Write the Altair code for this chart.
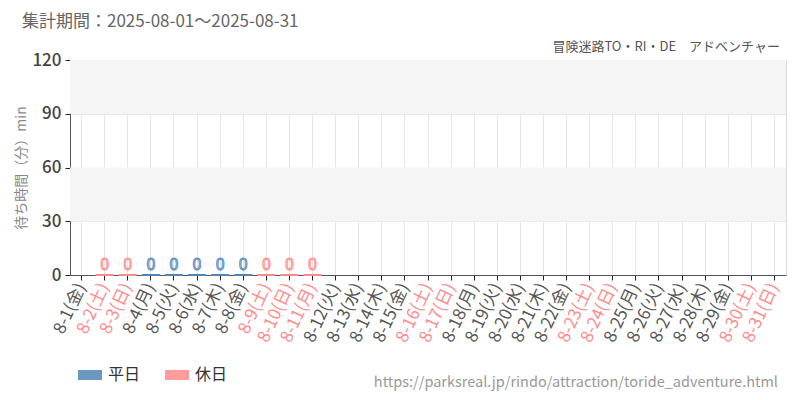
import altair as alt
import pandas as pd

# ---- data ----
days = [f"8-{d}" for d in range(1, 32)]
weekdays = ["金", "土", "日", "月", "火", "水", "木"] * 5
weekdays = weekdays[:31]
labels = [f"{d}({w})" for d, w in zip(days, weekdays)]
holiday_labels = [l for l in labels if ("土" in l or "日)" in l)] + ["8-11(月)"]
# wait time (min); None = no data
waits = [None, 0, 0, 0, 0, 0, 0, 0, 0, 0, 0] + [None] * 20
kinds = ["休日" if l in holiday_labels else "平日" for l in labels]

band_lo = [30, 90]
band_hi = [60, 120]

BLUE = "#4f86b8"
PINK = "#ff8a8a"
FONT = "Noto Sans CJK JP"

df = pd.DataFrame({"label": labels, "wait": waits, "kind": kinds})
bars_df = df.dropna(subset=["wait"])
bands_df = pd.DataFrame({"lo": band_lo, "hi": band_hi})

xscale = alt.Scale(domain=labels, paddingInner=0, paddingOuter=0)
yscale = alt.Scale(domain=[0, 120], nice=False)

hol_list = "[" + ",".join(f"'{h}'" for h in holiday_labels) + "]"

bands = alt.Chart(bands_df).mark_rect(color="#f5f5f5").encode(
    y=alt.Y("lo:Q", scale=yscale),
    y2="hi:Q",
)

base_x = alt.X(
    "label:N",
    scale=xscale,
    sort=labels,
    title=None,
    axis=alt.Axis(
        labelAngle=-65,
        labelAlign="right",
        labelBaseline="middle",
        labelFontSize=17,
        labelFont=FONT,
        labelPadding=4,
        labelLimit=200,
        labelColor=alt.ExprRef(f"indexof({hol_list}, datum.value) >= 0 ? '{PINK}' : '#555555'"),
        tickColor="#222222",
        tickSize=5,
        domainColor="#555555",
        grid=True,
        gridColor="#e6e6e6",
    ),
)

grid = alt.Chart(df).mark_tick(opacity=0).encode(
    x=base_x,
    y=alt.Y(
        "wait:Q",
        scale=yscale,
        title="待ち時間（分）min",
        axis=alt.Axis(
            values=[0, 30, 60, 90, 120],
            labelFontSize=17,
            labelFont=FONT,
            labelColor="#444444",
            labelFontWeight=500,
            labelPadding=4,
            tickColor="#222222",
            tickSize=5,
            domainColor="#555555",
            gridColor="#e6e6e6",
            titleFont=FONT,
            titleFontSize=14,
            titleFontWeight="normal",
            titleColor="#888888",
            titlePadding=3,
        ),
    ),
)

bars = alt.Chart(bars_df).mark_bar(size=18, strokeWidth=2).encode(
    x=alt.X("label:N", scale=xscale, sort=labels),
    y=alt.Y("wait:Q", scale=yscale),
    color=alt.Color(
        "kind:N",
        scale=alt.Scale(domain=["平日", "休日"], range=[BLUE, PINK]),
        legend=alt.Legend(
            title=None,
            orient="none",
            legendX=10,
            legendY=305,
            direction="horizontal",
            symbolType="M-1.2,-0.5H1.2V0.5H-1.2Z",
            symbolSize=400,
            symbolStrokeWidth=0,
            symbolOpacity=0.85,
            labelFont=FONT,
            labelFontSize=16,
            labelColor="#333333",
            labelOffset=8,
            columnPadding=24,
        ),
    ),
    stroke=alt.Stroke(
        "kind:N",
        scale=alt.Scale(domain=["平日", "休日"], range=[BLUE, PINK]),
        legend=None,
    ),
)

texts = alt.Chart(bars_df).mark_text(
    fontSize=16, font=FONT, dy=-10, strokeWidth=0.9
).encode(
    x=alt.X("label:N", scale=xscale, sort=labels),
    y=alt.Y("wait:Q", scale=yscale),
    text=alt.Text("wait:Q", format="d"),
    fill=alt.condition(alt.datum.kind == "平日", alt.value("#dfeaf4"), alt.value("#ffe6e6")),
    stroke=alt.condition(alt.datum.kind == "平日", alt.value(BLUE), alt.value(PINK)),
)

title = alt.Chart(pd.DataFrame({"t": ["集計期間：2025-08-01～2025-08-31"]})).mark_text(
    align="left", baseline="middle", font=FONT, fontSize=17, color="#666666"
).encode(x=alt.value(-48), y=alt.value(-38), text="t:N")

subtitle = alt.Chart(pd.DataFrame({"t": ["冒険迷路TO・RI・DE　アドベンチャー"]})).mark_text(
    align="right", baseline="middle", font=FONT, fontSize=13, color="#555555"
).encode(x=alt.value(710), y=alt.value(-13), text="t:N")

url = alt.Chart(pd.DataFrame({"t": ["https://parksreal.jp/rindo/attraction/toride_adventure.html"]})).mark_text(
    align="right", baseline="middle", font=FONT, fontSize=14.5, color="#999999"
).encode(x=alt.value(708), y=alt.value(323), text="t:N")

chart = (
    alt.layer(bands, grid, bars, texts, title, subtitle, url)
    .properties(
        width=716,
        height=215,
        autosize=alt.AutoSizeParams(type="none"),
        padding={"left": 62, "top": 52, "right": 6, "bottom": 117},
    )
    .configure_view(stroke=None)
    .configure(font=FONT)
)

chart.save("out.html", embed_options={"renderer": "svg", "actions": False})
